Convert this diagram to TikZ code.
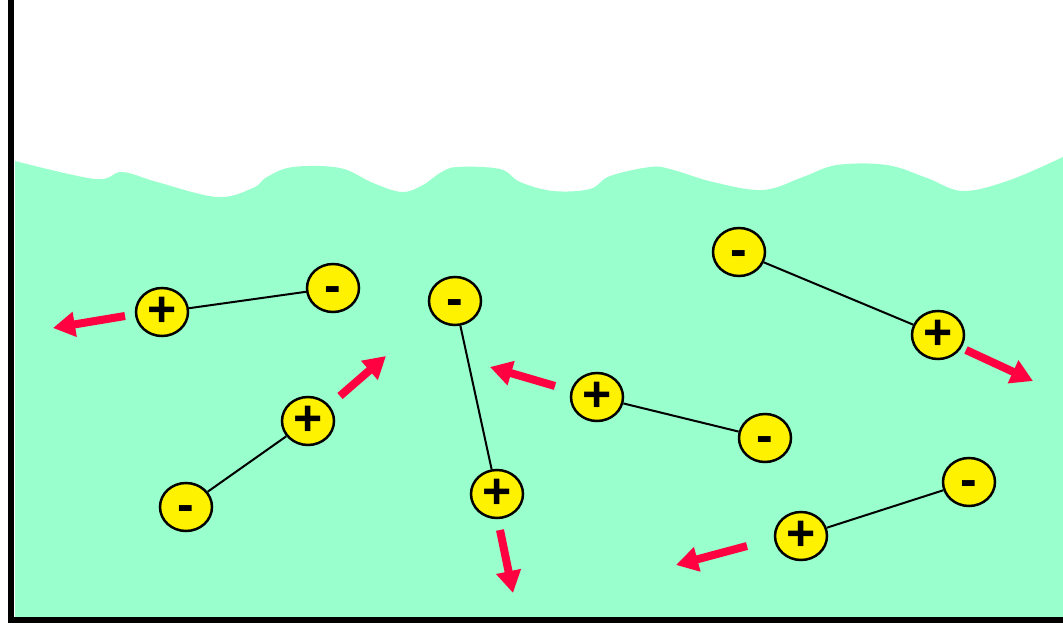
\documentclass[tikz,border=0pt]{standalone}
\usepackage{fontspec}
\setsansfont{Liberation Sans}
\usetikzlibrary{arrows.meta,shapes.geometric}
\definecolor{water}{RGB}{153,255,204}
\definecolor{kick}{RGB}{255,0,64}
\newcommand{\minussign}{\vphantom{+}-}

\begin{document}
\begin{tikzpicture}[x=1pt,y=-1pt,
    ion/.style={ellipse,draw,line width=2.5pt,fill=yellow,minimum width=52pt,minimum height=48pt,inner sep=0pt,font=\sffamily\bfseries\fontsize{50}{50}\selectfont},
    bond/.style={line width=2pt},
    push/.style={kick,line width=8pt,-{Triangle[length=22pt,width=24pt]}}]
    \useasboundingbox (0,0) rectangle (1063,623);
    % water with a wavy surface
    \fill[water] (15,617) -- plot[smooth,tension=0.6] coordinates {(15,161) (95,179) (122,172) (157,182) (217,197) (253,188) (267,177) (293,167) (340,168) (373,183) (402,192) (423,185) (440,173) (457,167) (500,169) (520,182) (553,191) (590,189) (610,176) (650,167) (670,169) (713,182) (763,190) (803,177) (837,165) (887,165) (927,178) (963,191) (1010,180) (1063,157)}
        -- (1063,617) -- cycle;
    % container
    \draw[line width=6pt] (11,0) -- (11,620) -- (1063,620);
    % dipoles
    \node[ion] (p1) at (162,312) {+};
    \node[ion] (m1) at (333,288) {\minussign};
    \node[ion] (p2) at (308,421) {+};
    \node[ion] (m2) at (186,507) {\minussign};
    \node[ion] (m3) at (455,301) {\minussign};
    \node[ion] (p3) at (497,494) {+};
    \node[ion] (p4) at (597,397) {+};
    \node[ion] (m4) at (765,438) {\minussign};
    \node[ion] (m5) at (739,252) {\minussign};
    \node[ion] (p5) at (938,335) {+};
    \node[ion] (m6) at (969,482) {\minussign};
    \node[ion] (p6) at (801,536) {+};
    \draw[bond] (p1) -- (m1);
    \draw[bond] (p2) -- (m2);
    \draw[bond] (m3) -- (p3);
    \draw[bond] (p4) -- (m4);
    \draw[bond] (m5) -- (p5);
    \draw[bond] (m6) -- (p6);
    % motion
    \draw[push] (125,316) -- (53,328);
    \draw[push] (340,396) -- (386,356);
    \draw[push] (500,530) -- (513,593);
    \draw[push] (555,386) -- (490,367);
    \draw[push] (966,350) -- (1033,381);
    \draw[push] (747,546) -- (676,565);
\end{tikzpicture}
\end{document}
